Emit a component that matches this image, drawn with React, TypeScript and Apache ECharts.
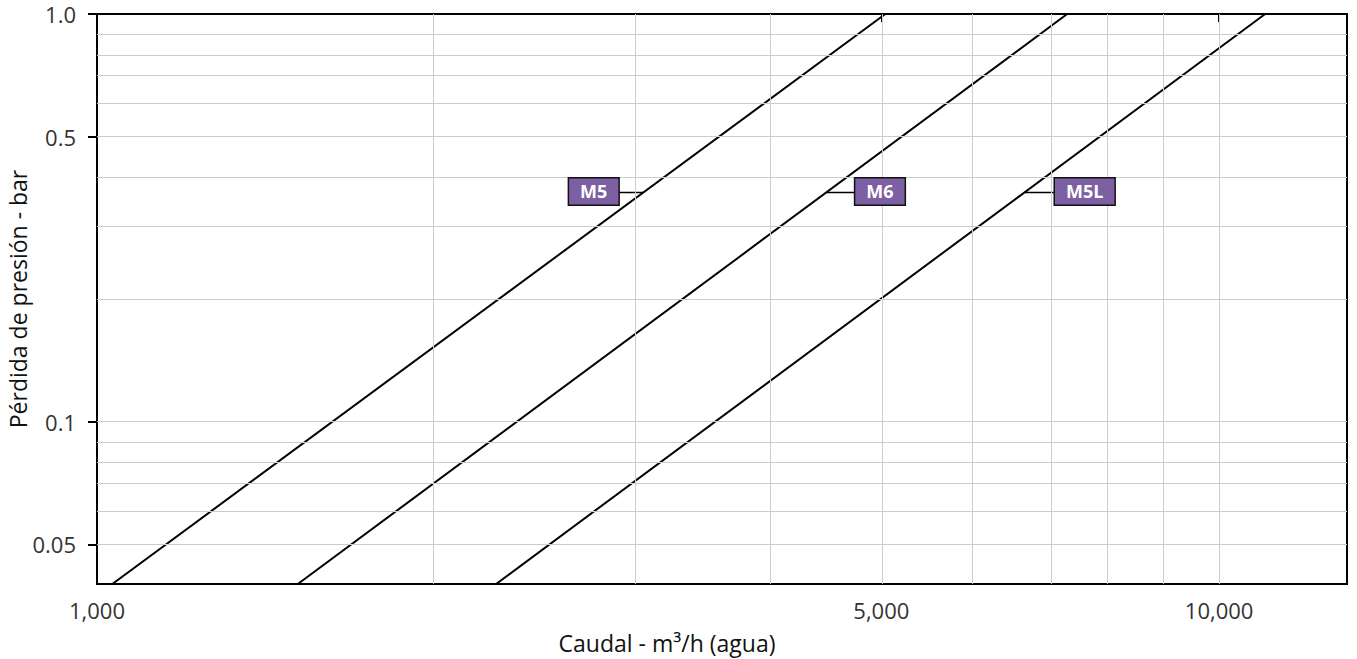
import React, { useEffect, useRef } from "react";
import * as echarts from "echarts";

// ---- axis ranges (m3/h, bar) ----
const X_MIN = 1000;
const X_MAX = 13000;
const Y_MIN = 0.04;
const Y_MAX = 1.0;

// ---- tick labels ----
const xTickValues = [1000, 5000, 10000];
const xTickLabels = ["1,000", "5,000", "10,000"];
const yTickValues = [0.05, 0.1, 0.5, 1.0];
const yTickLabels = ["0.05", "0.1", "0.5", "1.0"];

// ---- grid lines ----
const xGridValues = [2000, 3000, 4000, 5000, 6000, 7000, 8000, 9000, 10000];
const yGridValues = [0.05, 0.06, 0.07, 0.08, 0.09, 0.1, 0.2, 0.3, 0.4, 0.5, 0.6, 0.7, 0.8, 0.9];

// ---- series: flow (m3/h) at the bottom (0.04 bar) and top (1.0 bar) of the chart ----
const models = ["M5", "M6", "M5L"];
const flowAtLowPressure = [1032, 1510, 2268];
const flowAtHighPressure = [5041, 7321, 10990];
const lowPressure = 0.04;
const highPressure = 1.0;

// ---- annotation boxes ----
const labelPressure = 0.365;
const labelEdgeFlow = [2915, 4740, 7140];
const labelSide = ["left", "right", "right"];

const L = (v: number) => Math.log10(v);
const FONT = '"Open Sans", "Noto Sans", sans-serif';

function nearestLabel(v: number, values: number[], labels: string[]) {
  let best = 0;
  let bestD = Infinity;
  values.forEach((t, i) => {
    const d = Math.abs(L(t) - v);
    if (d < bestD) {
      bestD = d;
      best = i;
    }
  });
  return labels[best];
}

function crossingFlow(i: number, p: number) {
  const t = (L(p) - L(lowPressure)) / (L(highPressure) - L(lowPressure));
  return L(flowAtLowPressure[i]) + t * (L(flowAtHighPressure[i]) - L(flowAtLowPressure[i]));
}

export default function App() {
  const ref = useRef<HTMLDivElement>(null);

  useEffect(() => {
    document.body.style.margin = "0";
    document.body.style.overflow = "hidden";
    if (!ref.current) return;
    const chart = echarts.init(ref.current, undefined, { renderer: "svg" });

    const gridSeries = {
      name: "grid",
      type: "line",
      data: [],
      z: 1,
      silent: true,
      markLine: {
        silent: true,
        symbol: ["none", "none"],
        label: { show: false },
        emphasis: { disabled: true },
        lineStyle: { color: "#cccccc", width: 1, type: "solid" },
        data: [
          ...xGridValues.map((v) => ({ xAxis: L(v) })),
          ...yGridValues.map((v) => ({ yAxis: L(v) })),
        ],
      },
    };

    const lineSeries = models.map((m, i) => ({
      name: m,
      type: "line",
      symbol: "none",
      z: 3,
      lineStyle: { color: "#000", width: 2 },
      data: [
        [L(flowAtLowPressure[i]), L(lowPressure)],
        [L(flowAtHighPressure[i]), L(highPressure)],
      ],
    }));

    const connectorSeries = models.map((m, i) => ({
      name: m + "-conn",
      type: "line",
      symbol: "none",
      z: 3,
      lineStyle: { color: "#000", width: 1.5 },
      data: [
        [crossingFlow(i, labelPressure), L(labelPressure)],
        [L(labelEdgeFlow[i]), L(labelPressure)],
      ],
    }));

    const labelSeries = {
      name: "labels",
      type: "scatter",
      symbolSize: 0,
      z: 5,
      silent: true,
      itemStyle: { opacity: 1 },
      data: models.map((m, i) => ({
        value: [L(labelEdgeFlow[i]), L(labelPressure)],
        name: m,
        label: { position: labelSide[i] },
      })),
      label: {
        show: true,
        distance: 0,
        formatter: (p: any) => p.name,
        backgroundColor: "#7d5fa3",
        borderColor: "#111",
        borderWidth: 1.5,
        padding: [3, 11, 3, 11],
        color: "#fff",
        fontWeight: "bold",
        fontSize: 18,
        lineHeight: 20,
        fontFamily: FONT,
        opacity: 1,
        offset: [0, -1],
      },
    };

    chart.setOption({
      animation: false,
      grid: {
        left: 97,
        right: 10,
        top: 14,
        bottom: 75,
        show: true,
        borderColor: "#000",
        borderWidth: 2,
        containLabel: false,
      },
      xAxis: {
        type: "value",
        min: L(X_MIN),
        max: L(X_MAX),
        axisLine: { show: true, lineStyle: { color: "#000", width: 2 } },
        axisTick: {
          show: true,
          length: 8,
          lineStyle: { color: "#000", width: 2 },
          customValues: xTickValues.map(L),
        },
        axisLabel: {
          show: true,
          customValues: xTickValues.map(L),
          formatter: (v: number) => nearestLabel(v, xTickValues, xTickLabels),
          margin: 15,
          fontSize: 22,
          color: "#333",
          fontFamily: FONT,
        },
        splitLine: { show: false },
      },
      yAxis: {
        type: "value",
        min: L(Y_MIN),
        max: L(Y_MAX),
        axisLine: { show: true, lineStyle: { color: "#000", width: 2 } },
        axisTick: {
          show: true,
          length: 9,
          lineStyle: { color: "#000", width: 2 },
          customValues: yTickValues.map(L),
        },
        axisLabel: {
          show: true,
          customValues: yTickValues.map(L),
          formatter: (v: number) => nearestLabel(v, yTickValues, yTickLabels),
          margin: 21,
          fontSize: 22,
          color: "#333",
          fontFamily: FONT,
        },
        splitLine: { show: false },
      },
      graphic: [
        {
          type: "text",
          x: 667,
          y: 643,
          style: {
            text: "Caudal - m³/h (agua)",
            fontSize: 23,
            fontFamily: FONT,
            fill: "#111",
            align: "center",
            verticalAlign: "middle",
          },
        },
        {
          type: "text",
          x: 18,
          y: 299,
          rotation: Math.PI / 2,
          style: {
            text: "Pérdida de presión - bar",
            fontSize: 23,
            fontFamily: FONT,
            fill: "#111",
            align: "center",
            verticalAlign: "middle",
          },
        },
      ],
      series: [gridSeries, ...lineSeries, ...connectorSeries, labelSeries],
    });

    return () => chart.dispose();
  }, []);

  return <div ref={ref} style={{ width: 1357, height: 659 }} />;
}
